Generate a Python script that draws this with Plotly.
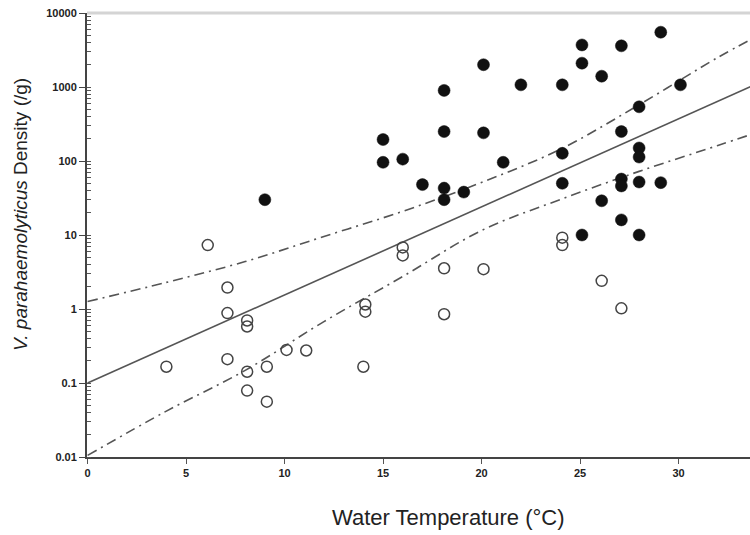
import plotly.graph_objects as go

# Positive samples (filled) and negative/low samples (open): water temperature (°C) vs density (/g)
pos_temp = [9.0, 29.1, 25.1, 27.1, 20.1, 25.1, 26.1, 18.1, 22.0, 24.1, 30.1, 28.0,
            15.0, 18.1, 20.1, 27.1, 15.0, 16.0, 21.1, 24.1, 28.0, 28.0, 17.0, 18.1,
            18.1, 19.1, 24.1, 27.1, 27.1, 28.0, 29.1, 26.1, 27.1, 25.1, 28.0]
pos_density = [30, 5500, 3700, 3600, 2000, 2100, 1400, 900, 1070, 1070, 1070, 540,
               195, 250, 240, 250, 96, 106, 96, 127, 150, 113, 48, 43,
               30, 38, 50, 57, 46, 52, 51, 29, 16, 10, 10]

neg_temp = [6.1, 7.1, 7.1, 8.1, 8.1, 7.1, 4.0, 8.1, 9.1, 10.1, 11.1, 8.1, 9.1,
            14.0, 14.1, 14.1, 16.0, 16.0, 18.1, 18.1, 20.1, 24.1, 24.1, 26.1, 27.1]
neg_density = [7.3, 1.95, 0.88, 0.70, 0.58, 0.21, 0.166, 0.142, 0.166, 0.28, 0.275, 0.079, 0.056,
               0.166, 1.15, 0.92, 6.8, 5.3, 3.55, 0.85, 3.45, 9.2, 7.3, 2.4, 1.02]

# Fitted regression line and its 95% confidence band
fit_temp = [0, 33.8]
fit_density = [0.1, 1050]

band_temp = [0, 4, 8, 12, 16, 20, 24, 28, 32, 33.8]
band_upper = [1.26, 2.29, 4.37, 9.55, 20.9, 51.3, 144, 575, 2512, 4571]
band_lower = [0.0105, 0.0417, 0.148, 0.676, 2.75, 11.5, 30.2, 72.4, 162, 234]

y_tickvals = [0.01, 0.1, 1, 10, 100, 1000, 10000]
y_ticktext = ["0.01", "0.1", "1", "10", "100", "1000", "10000"]
x_tickvals = [0, 5, 10, 15, 20, 25, 30]

FONT = "Liberation Sans, Arial, sans-serif"
dashdot = "10px,5px,2px,5px"

fig = go.Figure()

fig.add_trace(go.Scatter(x=band_temp, y=band_upper, mode="lines",
                         line=dict(color="#555555", width=1.6, dash=dashdot, shape="spline"),
                         hoverinfo="skip", showlegend=False))
fig.add_trace(go.Scatter(x=band_temp, y=band_lower, mode="lines",
                         line=dict(color="#555555", width=1.6, dash=dashdot, shape="spline"),
                         hoverinfo="skip", showlegend=False))
fig.add_trace(go.Scatter(x=fit_temp, y=fit_density, mode="lines",
                         line=dict(color="#555555", width=1.6),
                         hoverinfo="skip", showlegend=False))

fig.add_trace(go.Scatter(x=neg_temp, y=neg_density, mode="markers",
                         marker=dict(symbol="circle-open", size=11, color="#444444",
                                     line=dict(width=1.5, color="#444444")),
                         showlegend=False))
fig.add_trace(go.Scatter(x=pos_temp, y=pos_density, mode="markers",
                         marker=dict(symbol="circle", size=12, color="#111111",
                                     line=dict(width=0.5, color="#111111")),
                         showlegend=False))

tick_font = dict(size=11, family="Liberation Sans, Arial, sans-serif", color="#222222")

fig.update_layout(
    width=750, height=535,
    margin=dict(l=87, r=0, t=13, b=78),
    paper_bgcolor="white", plot_bgcolor="white",
    font=dict(family=FONT, color="#222222"),
    xaxis=dict(range=[-0.03, 33.63], tickvals=x_tickvals,
               ticktext=["<b>%d</b>" % v for v in x_tickvals],
               ticks="outside", ticklen=5,
               tickcolor="#555555", showgrid=False, zeroline=False,
               showline=True, linecolor="#444444", linewidth=2,
               tickfont=tick_font),
    yaxis=dict(type="log", range=[-2, 4], tickvals=y_tickvals,
               ticktext=["<b>%s</b>" % t for t in y_ticktext],
               ticks="outside", ticklen=6, tickcolor="#444444",
               minor=dict(ticks="inside", ticklen=4, tickcolor="#555555",
                          dtick="D1", showgrid=False),
               showgrid=False, zeroline=False,
               showline=True, linecolor="#444444", linewidth=2,
               tickfont=tick_font),
    shapes=[dict(type="line", xref="paper", yref="paper", x0=0, x1=1, y0=1, y1=1,
                 line=dict(color="#d4d4d4", width=3))],
    annotations=[
        dict(text="Water Temperature (°C)", xref="paper", yref="paper",
             x=(449 - 87) / 663, y=-(517 - 457) / 444, xanchor="center", yanchor="middle",
             showarrow=False, font=dict(size=22, family=FONT, color="#222222")),
        dict(text="<i>V. parahaemolyticus</i> Density (/g)", xref="paper", yref="paper",
             x=-(87 - 20) / 663, y=(457 - 215) / 444, xanchor="center", yanchor="middle",
             textangle=-90, showarrow=False,
             font=dict(size=19, family=FONT, color="#222222")),
    ],
)

fig.write_html("out.html")
